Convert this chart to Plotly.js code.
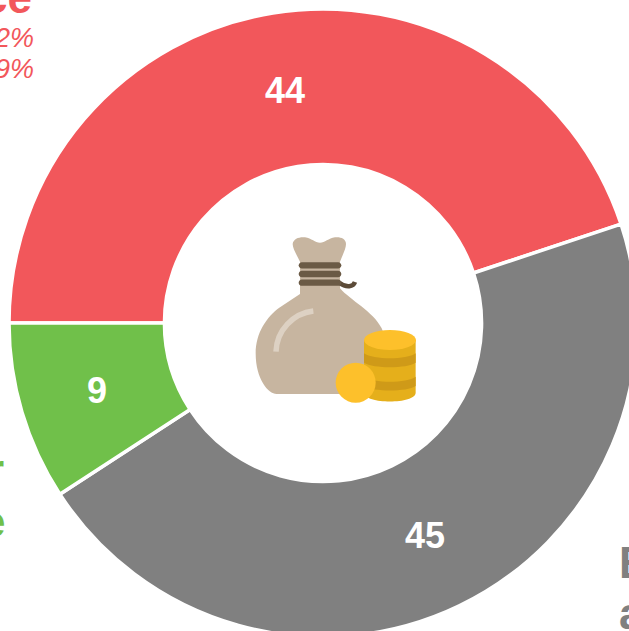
<!DOCTYPE html>
<html><head><meta charset="utf-8">
<script src="https://cdn.plot.ly/plotly-3.0.1.min.js"></script>
<style>html,body{margin:0;padding:0;background:#fff;overflow:hidden;width:629px;height:631px}#c{position:absolute;left:0;top:0}</style>
</head><body><div id="c"></div>
<script>
const categories = ['Red', 'Gray', 'Green'];
const values = [44, 45, 9];
const colors = ['#F2575B', '#808080', '#70C04A'];
const sideTexts = ['ce', '2%', '9%', 'r', 'e', 'E', 'a'];

const S = 700;
const FONT = 'Liberation Sans, Arial, sans-serif';
const px = v => v / S;
const py = v => 1 - v / S;
const conv = d => d.replace(/(-?[\d.]+) (-?[\d.]+)/g, (m, a, b) =>
  px(240 + a / 3) + ' ' + py(220 + b / 3));
const shp = (d, fill, line, w) => ({
  type: 'path', xref: 'paper', yref: 'paper', path: conv(d),
  fillcolor: fill || 'rgba(0,0,0,0)',
  line: {color: line || 'rgba(0,0,0,0)', width: w || 0}
});
const ell = (cx, cy, rx, ry, fill) => ({
  type: 'circle', xref: 'paper', yref: 'paper',
  x0: px(240 + (cx - rx) / 3), x1: px(240 + (cx + rx) / 3),
  y0: py(220 + (cy + ry) / 3), y1: py(220 + (cy - ry) / 3),
  fillcolor: fill, line: {width: 0}
});
const pill = (x0, x1, y, h, fill) => {
  const r = h / 2, k = r * 0.55;
  return shp(`M ${x0 + r} ${y - r} L ${x1 - r} ${y - r} C ${x1 - r + k} ${y - r} ${x1} ${y - k} ${x1} ${y} C ${x1} ${y + k} ${x1 - r + k} ${y + r} ${x1 - r} ${y + r} L ${x0 + r} ${y + r} C ${x0 + r - k} ${y + r} ${x0} ${y + k} ${x0} ${y} C ${x0} ${y - k} ${x0 + r - k} ${y - r} ${x0 + r} ${y - r} Z`, fill);
};
const shapes = [
  shp('M 180 125 C 170 105 158 85 158 72 C 160 55 180 50 195 52 C 215 55 225 68 240 68 C 255 68 265 55 285 52 C 300 50 318 55 318 72 C 318 85 308 105 300 125 L 300 205 C 330 240 400 275 425 325 C 445 365 435 450 400 522 L 110 522 C 85 522 47 478 47 400 C 47 340 80 290 120 262 L 180 222 Z', '#C7B5A0'),
  shp('M 108 395 C 110 330 160 280 220 273', null, '#DDD1C3', 5.5),
  shp('M 298 188 C 320 205 340 200 345 186', null, '#5C4B38', 4.5),
  pill(176, 304, 136, 19, '#6B5A45'),
  pill(176, 304, 162, 19, '#6B5A45'),
  pill(176, 304, 188, 19, '#6B5A45'),
  shp('M 372 360 L 372 518 C 372 553 527 553 527 518 L 527 360 Z', '#E5AF1B'),
  shp('M 372 400 C 400 420 500 420 527 400 L 527 428 C 500 446 400 446 372 428 Z', '#CF9A18'),
  shp('M 372 470 C 400 490 500 490 527 470 L 527 498 C 500 516 400 516 372 498 Z', '#CF9A18'),
  ell(450, 360, 78, 30, '#FDC02B'),
  ell(347, 488, 60, 60, '#FDC02B')
];
const note = (text, x, y, color, size, bold, italic, anchor) => ({
  text: bold ? '<b>' + text + '</b>' : (italic ? '<i>' + text + '</i>' : text),
  xref: 'paper', yref: 'paper', x: px(x), y: py(y),
  xanchor: anchor, yanchor: 'middle', showarrow: false,
  font: {family: FONT, color, size}
});
const annotations = [
  note(sideTexts[0], 34, -2, colors[0], 44, true, false, 'right'),
  note(sideTexts[1], 36, 38, colors[0], 27, false, true, 'right'),
  note(sideTexts[2], 36, 69, colors[0], 27, false, true, 'right'),
  note(sideTexts[3], 6, 470, colors[2], 44, true, false, 'right'),
  note(sideTexts[4], 7, 521, colors[2], 44, true, false, 'right'),
  note(sideTexts[5], 617, 562, colors[1], 44, true, false, 'left'),
  note(sideTexts[6], 617, 613, colors[1], 44, true, false, 'left')
];
// value labels sit at the middle of the ring, at each slice's mid angle
const total = values.reduce((a, b) => a + b, 0);
let start = 270;
values.forEach(v => {
  const a = (start + v / total * 180) * Math.PI / 180;
  annotations.push(note(String(v), 323 + 236 * Math.sin(a), 323 - 236 * Math.cos(a), '#fff', 36, true, false, 'center'));
  start += v / total * 360;
});
Plotly.newPlot('c', [{
  type: 'pie', labels: categories, values: values, hole: 0.505,
  sort: false, direction: 'clockwise', rotation: 270,
  marker: {colors: colors, line: {color: '#fff', width: 3.5}},
  textinfo: 'none',
  domain: {x: [9 / S, 637 / S], y: [1 - 637 / S, 1 - 9 / S]},
  hoverinfo: 'label+value'
}], {
  width: S, height: S, margin: {l: 0, r: 0, t: 0, b: 0},
  paper_bgcolor: '#fff', showlegend: false, shapes, annotations
}, {displayModeBar: false, staticPlot: true});
</script></body></html>
